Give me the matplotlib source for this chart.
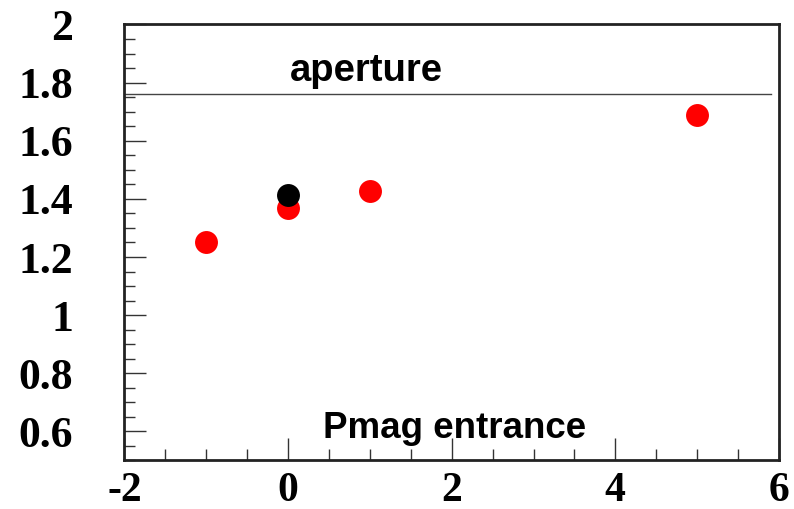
import matplotlib
matplotlib.use("Agg")
import matplotlib.pyplot as plt
from matplotlib.ticker import MultipleLocator
from matplotlib.font_manager import FontProperties

# data
red_x = [-1, 0, 1, 5]
red_y = [1.25, 1.367, 1.428, 1.689]
black_x = [0]
black_y = [1.412]
aperture_x = [-2, 5.9]
aperture_y = [1.762, 1.762]
x_ticks = [-2, 0, 2, 4, 6]
y_ticks = [0.6, 0.8, 1.0, 1.2, 1.4, 1.6, 1.8, 2.0]
y_labels = ["0.6", "0.8", "1", "1.2", "1.4", "1.6", "1.8", "2"]

fig = plt.figure(figsize=(7.94, 5.09), dpi=100)
ax = fig.add_axes([0.1568, 0.0953, 0.981 - 0.1568, 0.9519 - 0.0953])

ax.plot(aperture_x, aperture_y, color="#444444", lw=1.0, zorder=2)
ax.plot(red_x, red_y, "o", color="#ff0000", ms=16.5, mec="none", zorder=3)
ax.plot(black_x, black_y, "o", color="black", ms=16.5, mec="none", zorder=4)

ax.set_xlim(-2, 6)
ax.set_ylim(0.5, 2.0)
ax.set_xticks(x_ticks)
ax.set_xticklabels([str(t) for t in x_ticks])
ax.set_yticks(y_ticks)
ax.set_yticklabels(y_labels)
ax.xaxis.set_minor_locator(MultipleLocator(0.5))
ax.yaxis.set_minor_locator(MultipleLocator(0.05))

for lab in ax.get_xticklabels():
    lab.set_fontproperties(FontProperties(family="Liberation Serif", weight="bold", size=30))
for lab in ax.get_yticklabels():
    lab.set_fontproperties(FontProperties(family="Liberation Serif", weight="bold", size=31.5))

ax.tick_params(which="both", direction="in", top=False, right=False, width=1.0, color="#333333")
ax.tick_params(which="major", length=16)
ax.tick_params(which="minor", length=8)
ax.tick_params(axis="y", which="major", pad=37)
ax.tick_params(axis="x", which="major", pad=8)

for sp in ax.spines.values():
    sp.set_linewidth(2.0)
    sp.set_color("#222222")

ax.text(0.96, 1.806, "aperture", fontsize=27.5, fontweight="bold", family="Liberation Sans",
        ha="center", va="baseline")
ax.text(2.03, 0.577, "Pmag entrance", fontsize=26.5, fontweight="bold", family="Liberation Sans",
        ha="center", va="baseline")

fig.savefig("out.png", dpi=100)
